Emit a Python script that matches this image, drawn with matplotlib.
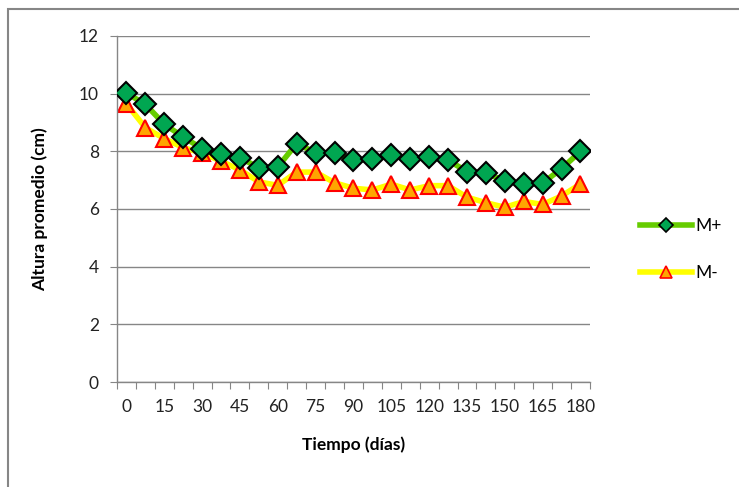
"""
Altura promedio vs tiempo: M+ and M- series (Excel-style line chart).
"""
import matplotlib

matplotlib.use("Agg")
import matplotlib.pyplot as plt
import numpy as np
from matplotlib.lines import Line2D
from matplotlib.patches import Rectangle

# category labels shown on the x axis (every other category)
x_labels = ["0", "15", "30", "45", "60", "75", "90", "105", "120",
            "135", "150", "165", "180"]

m_plus = [10.02, 9.63, 8.94, 8.50, 8.09, 7.92, 7.78, 7.43, 7.46, 8.27,
          7.95, 7.95, 7.69, 7.72, 7.86, 7.73, 7.80, 7.69, 7.30, 7.24,
          6.98, 6.86, 6.90, 7.40, 8.00]
m_minus = [9.65, 8.82, 8.44, 8.13, 7.94, 7.66, 7.36, 6.94, 6.82, 7.28,
           7.28, 6.91, 6.72, 6.66, 6.86, 6.66, 6.81, 6.81, 6.41, 6.22,
           6.06, 6.26, 6.16, 6.45, 6.87]


def main() -> None:
    plt.rcParams.update({
        "font.family": ["Lato", "DejaVu Sans"],
        "axes.edgecolor": "#868686",
        "axes.linewidth": 1.0,
    })

    fig = plt.figure(figsize=(7.39, 4.87), dpi=100)
    ax = fig.add_axes([0.1583, 0.2156, 0.6400, 0.7105])

    # outer chart border (only left/top visible in reference)
    fig.patches.append(Rectangle((8 / 739, -0.1), 1.2, (487 - 9) / 487 + 0.1,
                                 transform=fig.transFigure, fill=False,
                                 edgecolor="#868686", linewidth=1.5))

    x = np.arange(len(m_plus))
    ax.plot(x, m_plus, color="#66CC00", linewidth=4, zorder=3,
            marker="D", markersize=11, markerfacecolor="#00A651",
            markeredgecolor="black", markeredgewidth=1.5, label="M+")
    ax.plot(x, m_minus, color="#FFFF00", linewidth=4, zorder=2,
            marker="^", markersize=11, markerfacecolor="#FFA500",
            markeredgecolor="#FF0000", markeredgewidth=1.5, label="M-")

    ax.set_xlim(-0.5, len(m_plus) - 0.5)
    ax.set_ylim(0, 12)
    ax.set_yticks(np.arange(0, 13, 2))
    ax.grid(axis="y", color="#868686", linewidth=1.0)
    ax.set_axisbelow(True)
    for side in ("top", "right"):
        ax.spines[side].set_visible(False)

    ax.set_xticks(np.arange(-0.5, len(m_plus), 1.0))
    ax.set_xticklabels([])
    ax.set_xticks(np.arange(0, len(m_plus), 2), minor=True)
    ax.set_xticklabels(x_labels, minor=True)
    ax.tick_params(axis="x", which="major", length=5, direction="out",
                   color="#868686")
    ax.tick_params(axis="x", which="minor", length=0, pad=12,
                   labelsize=12.5, labelcolor="#222222")
    ax.tick_params(axis="y", length=5, direction="out", color="#868686",
                   labelsize=12.5, labelcolor="#222222", pad=8)

    ax.set_xlabel("Tiempo (días)", fontsize=12.5, fontweight="bold",
                  labelpad=16)
    ax.set_ylabel("Altura promedio (cm)", fontsize=12.5, fontweight="bold",
                  labelpad=22)

    handles = [
        Line2D([], [], color="#66CC00", linewidth=4, marker="D", markersize=7,
               markerfacecolor="#00A651", markeredgecolor="black",
               markeredgewidth=1.2),
        Line2D([], [], color="#FFFF00", linewidth=4, marker="^", markersize=8,
               markerfacecolor="#FFA500", markeredgecolor="#FF0000",
               markeredgewidth=1.2),
    ]
    fig.legend(handles, ["M+", "M-"], loc="center left",
               bbox_to_anchor=(0.845, 0.488), frameon=False, fontsize=12.5,
               handlelength=3.0, labelspacing=1.8, handletextpad=0.2)

    fig.savefig("out.png", dpi=100)
    plt.close(fig)


if __name__ == "__main__":
    main()
